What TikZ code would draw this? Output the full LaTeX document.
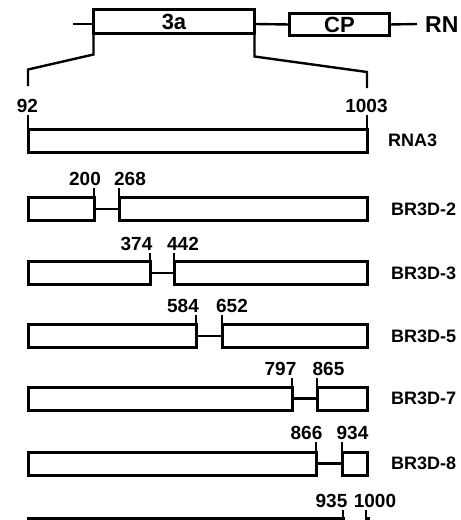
\documentclass[tikz,border=0pt]{standalone}
\usepackage{fontspec}
\setmainfont{Liberation Sans}
\usepackage{tikz}
\usetikzlibrary{arrows,positioning,calc}
\tikzstyle{segment} = [draw,line width=3pt,minimum height=23pt,inner sep=0pt,outer sep=0pt,anchor=west]
\tikzstyle{orf} = [segment,font=\bfseries\fontsize{22}{22}\selectfont]
\tikzstyle{link} = [line width=2.4pt]
\tikzstyle{tick} = [line width=2.4pt,shorten >=3pt]
\tikzstyle{ntpos} = [inner sep=0pt,anchor=base,font=\bfseries\fontsize{19}{19}\selectfont]
\tikzstyle{clone} = [inner sep=0pt,anchor=west,font=\bfseries\fontsize{18}{18}\selectfont]

\begin{document}
\begin{tikzpicture}[x=1pt,y=-1pt]
      \useasboundingbox (0,0) rectangle (461,520);
      \clip (0,0) rectangle (461,520);

      % RNA3 map
      \node (box3a)[orf,minimum width=161pt,minimum height=24pt] at (93.5,21.5) {3a};
      \node (cp)[orf,minimum width=100pt,minimum height=22pt] at (289.5,24.5) {CP};
      \node (rnatop)[clone,font=\bfseries\fontsize{23}{23}\selectfont] at (425,25) {RN};
      \coordinate (lstart) at (73,24);
      \coordinate (lend) at (417,24);
      \draw[link] (lstart) -- (lstart -| box3a.west);
      \draw[link] (box3a.east |- lstart) -- (cp.west);
      \draw[link] (cp.east) -- (lend);

      % zoom onto the 3a ORF
      \coordinate (zl) at (28,86);
      \coordinate (zr) at (367,88);
      \draw[link] (box3a.south west) -- ++(0,21) -- ++(-65.5,15) -- (zl);
      \draw[link] (box3a.south east) -- ++(0,23) -- ++(112.5,15.5) -- (zr);
      \node (n92)[ntpos] at (27.5,112) {92};
      \node (n1003)[ntpos] at (366.5,112) {1003};

      % full length
      \node (rna3)[segment,minimum width=339pt] at (28,140.5) {};
      \node (lrna3)[clone] at (388,140.5) {RNA3};
      \draw[tick] (rna3.north west) -- (rna3.north west |- n92.south);
      \draw[tick] (rna3.north east) -- (rna3.north east |- n1003.south);

      % BR3D-2
      \node (b2l)[segment,minimum width=66pt] at (28,209) {};
      \node (b2r)[segment,minimum width=248pt] at (119,209) {};
      \node (n200)[ntpos] at (85,185) {200};
      \node (n268)[ntpos] at (130,185) {268};
      \node (l2)[clone] at (391,209) {BR3D-2};
      \draw[link] (b2l.east) -- (b2r.west);
      \draw[tick] (b2l.north east) -- (b2l.north east |- n200.south);
      \draw[tick] (b2r.north west) -- (b2r.north west |- n268.south);

      % BR3D-3
      \node (b3l)[segment,minimum width=122pt] at (28,273) {};
      \node (b3r)[segment,minimum width=193pt] at (174,273) {};
      \node (n374)[ntpos] at (136.5,250) {374};
      \node (n442)[ntpos] at (183,250) {442};
      \node (l3)[clone] at (391,273) {BR3D-3};
      \draw[link] (b3l.east) -- (b3r.west);
      \draw[tick] (b3l.north east) -- (b3l.north east |- n374.south);
      \draw[tick] (b3r.north west) -- (b3r.north west |- n442.south);

      % BR3D-5
      \node (b5l)[segment,minimum width=168pt] at (28,336) {};
      \node (b5r)[segment,minimum width=145pt] at (222,336) {};
      \node (n584)[ntpos] at (183,312) {584};
      \node (n652)[ntpos] at (232,312) {652};
      \node (l5)[clone] at (391,336) {BR3D-5};
      \draw[link] (b5l.east) -- (b5r.west);
      \draw[tick] (b5l.north east) -- (b5l.north east |- n584.south);
      \draw[tick] (b5r.north west) -- (b5r.north west |- n652.south);

      % BR3D-7
      \node (b7l)[segment,minimum width=264pt] at (28,398.5) {};
      \node (b7r)[segment,minimum width=50pt] at (317,398.5) {};
      \node (n797)[ntpos] at (280.5,375) {797};
      \node (n865)[ntpos] at (328.5,375) {865};
      \node (l7)[clone] at (391,398.5) {BR3D-7};
      \draw[link] (b7l.east) -- (b7r.west);
      \draw[tick] (b7l.north east) -- (b7l.north east |- n797.south);
      \draw[tick] (b7r.north west) -- (b7r.north west |- n865.south);

      % BR3D-8
      \node (b8l)[segment,minimum width=288pt] at (28,463.5) {};
      \node (b8r)[segment,minimum width=25pt] at (342,463.5) {};
      \node (n866)[ntpos] at (306.5,439) {866};
      \node (n934)[ntpos] at (352.5,439) {934};
      \node (l8)[clone] at (391,463.5) {BR3D-8};
      \draw[link] (b8l.east) -- (b8r.west);
      \draw[tick] (b8l.north east) -- (b8l.north east |- n866.south);
      \draw[tick] (b8r.north west) -- (b8r.north west |- n934.south);

      % last clone, runs off the bottom
      \node (b9l)[segment,minimum width=315pt] at (28,530) {};
      \node (b9r)[segment,minimum width=2pt] at (366,530) {};
      \node (n935)[ntpos] at (331.5,507) {935};
      \node (n1000)[ntpos] at (375,507) {1000};
      \draw[tick] (b9l.north east) -- (b9l.north east |- n935.south);
      \draw[tick] (b9r.north west) -- (b9r.north west |- n1000.south);
\end{tikzpicture}
\end{document}
